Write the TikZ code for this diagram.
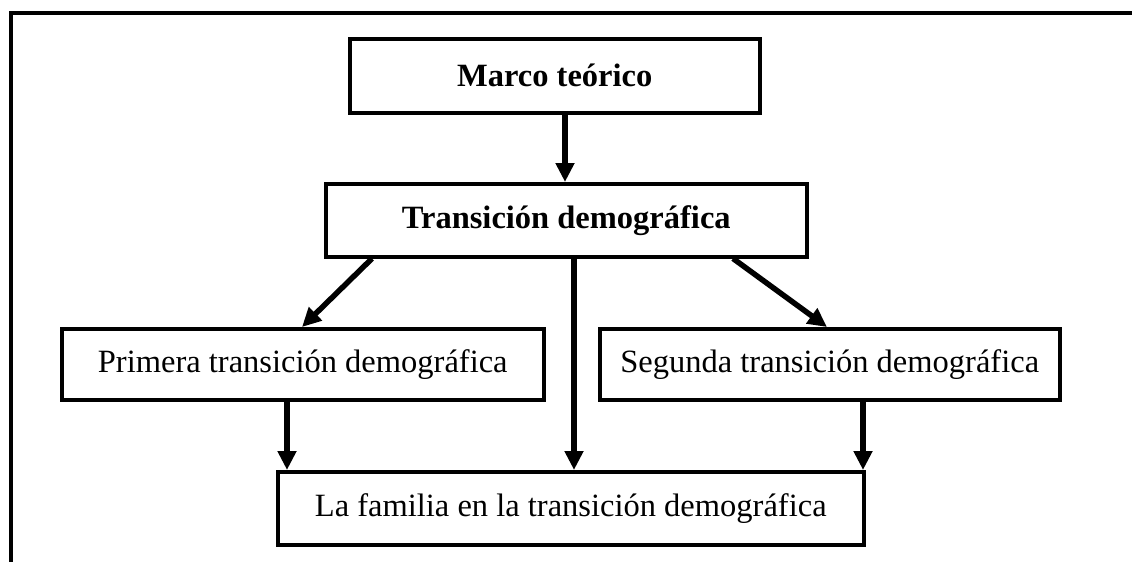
\documentclass[tikz,border=0pt]{standalone}
\usepackage{fontspec}
\setmainfont{Liberation Serif}
\usetikzlibrary{arrows.meta}
\begin{document}
\begin{tikzpicture}[x=1pt,y=-1pt,
  box/.style={draw,line width=3.5pt,inner sep=0pt,anchor=north west,font=\fontsize{32.5}{38}\selectfont},
  arr/.style={line width=5.5pt,-{Triangle[length=19pt,width=18pt]}}]
\useasboundingbox (0,0) rectangle (1132,562);
\draw[line width=3.5pt] (9,13) -- (1132,13);
\draw[line width=3.5pt] (11,13) -- (11,562);
\node[box,minimum width=410pt,minimum height=74pt,font=\fontsize{32.5}{38}\selectfont\bfseries] (marco) at (348,37) {Marco teórico};
\node[box,minimum width=481pt,minimum height=73pt,font=\fontsize{32.5}{38}\selectfont\bfseries] (trans) at (324,182) {Transición demográfica};
\node[box,minimum width=482pt,minimum height=71pt] (prim) at (60,327) {Primera transición demográfica};
\node[box,minimum width=460pt,minimum height=71pt] (seg) at (598,327) {Segunda transición demográfica};
\node[box,minimum width=586pt,minimum height=73pt] (fam) at (276,470) {La familia en la transición demográfica};
\coordinate (x1) at (565,0);
\coordinate (x2) at (372,0);
\coordinate (x3) at (302,0);
\coordinate (x4) at (733,0);
\coordinate (x5) at (827,0);
\coordinate (x6) at (574,0);
\coordinate (x7) at (287,0);
\coordinate (x8) at (863,0);
\draw[arr] (marco.south -| x1) -- (trans.north -| x1);
\draw[arr] (trans.south -| x2) -- (prim.north -| x3);
\draw[arr] (trans.south -| x4) -- (seg.north -| x5);
\draw[arr] (trans.south -| x6) -- (fam.north -| x6);
\draw[arr] (prim.south -| x7) -- (fam.north -| x7);
\draw[arr] (seg.south -| x8) -- (fam.north -| x8);
\end{tikzpicture}
\end{document}
